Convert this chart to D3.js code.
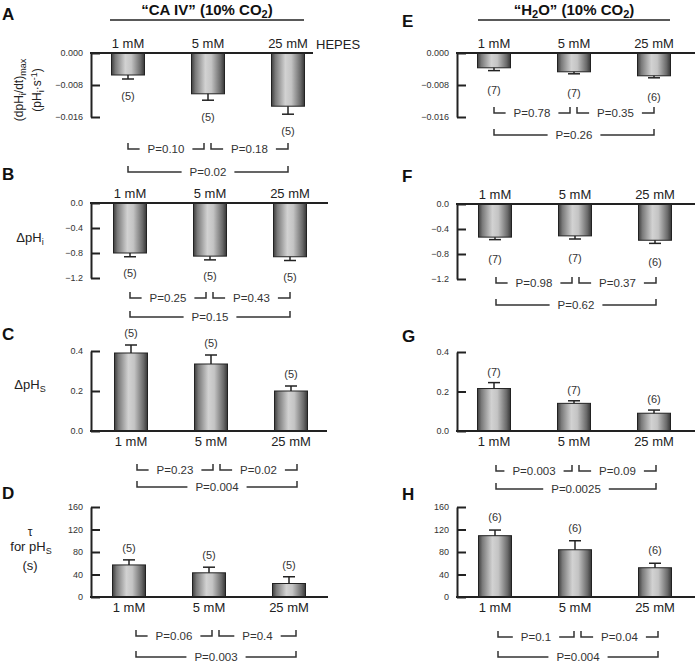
<!DOCTYPE html>
<html><head><meta charset="utf-8">
<script src="https://cdn.jsdelivr.net/npm/d3@7"></script>
<style>
body{margin:0;background:#fff}
svg{display:block}
text{font-family:Arial,"Liberation Sans",sans-serif;fill:#222}
</style>
</head><body>
<svg id="c" width="695" height="671"></svg>
<script>
// ---------- data ----------
const categories = ["1 mM", "5 mM", "25 mM"];

// "CA IV" (10% CO2)
const caivRate = [-0.0055, -0.0102, -0.0133];
const caivRateErr = [0.0010, 0.0016, 0.0020];
const caivDpHi = [-0.80, -0.85, -0.86];
const caivDpHiErr = [0.06, 0.06, 0.06];
const caivDpHs = [0.39, 0.335, 0.20];
const caivDpHsErr = [0.04, 0.045, 0.025];
const caivTau = [57, 43, 24];
const caivTauErr = [9, 10, 12];
const caivN = [5, 5, 5];

// "H2O" (10% CO2)
const h2oRate = [-0.0037, -0.0047, -0.0057];
const h2oRateErr = [0.0007, 0.0005, 0.0005];
const h2oDpHi = [-0.53, -0.51, -0.58];
const h2oDpHiErr = [0.04, 0.05, 0.05];
const h2oDpHs = [0.215, 0.14, 0.09];
const h2oDpHsErr = [0.03, 0.013, 0.016];
const h2oTau = [109, 84, 52];
const h2oTauErr = [10, 16, 8];
const h2oN = [7, 7, 6];
const h2oTauN = [6, 6, 6];

// P values: [1 vs 5, 5 vs 25, 1 vs 25]
const pA = ["P=0.10", "P=0.18", "P=0.02"];
const pB = ["P=0.25", "P=0.43", "P=0.15"];
const pC = ["P=0.23", "P=0.02", "P=0.004"];
const pD = ["P=0.06", "P=0.4", "P=0.003"];
const pE = ["P=0.78", "P=0.35", "P=0.26"];
const pF = ["P=0.98", "P=0.37", "P=0.62"];
const pG = ["P=0.003", "P=0.09", "P=0.0025"];
const pH = ["P=0.1", "P=0.04", "P=0.004"];

// tick labels
const rateTicks = [0, -0.008, -0.016];
const dpHiTicks = [0, -0.4, -0.8, -1.2];
const dpHsTicks = [0, 0.2, 0.4];
const tauTicks = [0, 40, 80, 120, 160];

// ---------- drawing ----------
const svg = d3.select("#c");
const defs = svg.append("defs");
const grad = defs.append("linearGradient").attr("id", "barGrad")
  .attr("x1", "0%").attr("x2", "100%").attr("y1", "0%").attr("y2", "0%");
[[0, "#3e3e3e"], [0.12, "#7a7a7a"], [0.42, "#d2d2d2"], [0.6, "#c4c4c4"], [0.88, "#6a6a6a"], [1, "#363636"]]
  .forEach(([o, c]) => grad.append("stop").attr("offset", o).attr("stop-color", c));

const INK = "#222";

function drawPanel(cfg) {
  const g = svg.append("g");
  const x = d3.scalePoint().domain(categories).range([cfg.x0 + 37 + cfg.dx, cfg.x0 + 197 + cfg.dx]);
  const y = d3.scaleLinear().domain(cfg.domain).range(cfg.range);
  const y0 = y(0);
  const bw = 33;

  // letter
  svg.append("text").attr("x", cfg.lx).attr("y", cfg.ly)
    .style("font-size", "17px").style("font-weight", "bold").style("fill", "#111")
    .text(cfg.letter);

  // bars
  const data = categories.map((c, i) => ({c, v: cfg.values[i], e: cfg.errs[i], n: cfg.n[i]}));
  g.selectAll("rect.bar").data(data).join("rect")
    .attr("x", d => x(d.c) - bw / 2)
    .attr("width", bw)
    .attr("y", d => Math.min(y(d.v), y0))
    .attr("height", d => Math.abs(y(d.v) - y0))
    .attr("fill", "url(#barGrad)")
    .attr("stroke", INK).attr("stroke-width", 1);

  // error bars (one-sided, away from zero)
  const sgn = cfg.neg ? -1 : 1;
  g.selectAll("line.err").data(data).join("line")
    .attr("x1", d => x(d.c)).attr("x2", d => x(d.c))
    .attr("y1", d => y(d.v)).attr("y2", d => y(d.v + sgn * d.e))
    .attr("stroke", INK).attr("stroke-width", 1.5);
  g.selectAll("line.cap").data(data).join("line")
    .attr("x1", d => x(d.c) - 6).attr("x2", d => x(d.c) + 6)
    .attr("y1", d => y(d.v + sgn * d.e)).attr("y2", d => y(d.v + sgn * d.e))
    .attr("stroke", INK).attr("stroke-width", 1.5);

  // n labels
  g.selectAll("text.n").data(data).join("text")
    .attr("x", d => x(d.c))
    .attr("y", d => y(d.v + sgn * d.e) + (cfg.neg ? cfg.nOff : -cfg.nOff) + 4)
    .attr("text-anchor", "middle").style("font-size", "11px").style("fill", "#333")
    .text(d => "(" + d.n + ")");

  // y axis
  const ax = d3.axisLeft(y).tickValues(cfg.ticks).tickSizeInner(-9).tickSizeOuter(0)
    .tickPadding(8).tickFormat(d3.format(cfg.fmt));
  const ag = g.append("g").attr("transform", `translate(${cfg.x0},0)`).call(ax);
  ag.select(".domain").attr("stroke", INK).attr("stroke-width", 2);
  ag.selectAll(".tick line").attr("stroke", INK).attr("stroke-width", 2);
  ag.selectAll(".tick text").style("font-size", "9px").style("fill", "#333")
    .style("font-family", "Arial,'Liberation Sans',sans-serif");

  // x axis line at zero
  g.append("line").attr("x1", cfg.x0 - 1).attr("x2", cfg.x0 + cfg.axisLen)
    .attr("y1", y0).attr("y2", y0).attr("stroke", INK).attr("stroke-width", 2);

  // category labels
  g.selectAll("text.cat").data(categories).join("text")
    .attr("x", d => x(d)).attr("y", cfg.neg ? y0 - 5 : y0 + 15)
    .attr("text-anchor", "middle").style("font-size", "13px")
    .text(d => d);

  // P brackets
  const c = categories.map(d => x(d) + cfg.bx);
  const brs = [
    {a: c[0], b: c[1] - 4, yy: cfg.row1, t: cfg.p[0]},
    {a: c[1] + 3, b: c[2], yy: cfg.row1, t: cfg.p[1]},
    {a: c[0], b: c[2], yy: cfg.row2, t: cfg.p[2]}
  ];
  brs.forEach(br => {
    const mid = (br.a + br.b) / 2;
    const tx = g.append("text").attr("x", mid).attr("y", br.yy + 4)
      .attr("text-anchor", "middle").style("font-size", "11.5px").style("fill", "#333")
      .text(br.t);
    const w = tx.node().getComputedTextLength();
    const gap = 8;
    const path = d3.path();
    path.moveTo(br.a, br.yy - 6); path.lineTo(br.a, br.yy); path.lineTo(mid - w / 2 - gap, br.yy);
    path.moveTo(mid + w / 2 + gap, br.yy); path.lineTo(br.b, br.yy); path.lineTo(br.b, br.yy - 6);
    g.append("path").attr("d", path.toString()).attr("fill", "none")
      .attr("stroke", "#333").attr("stroke-width", 1.5);
  });
}

const L = 91, R = 457;
const panels = [
  {letter: "A", lx: 2, ly: 20, x0: L, dx: 0, bx: 0, axisLen: 222, domain: [0, -0.016], range: [53, 117], ticks: rateTicks, fmt: ".3f",
   values: caivRate, errs: caivRateErr, n: caivN, p: pA, neg: true, nOff: 17, row1: 149, row2: 172},
  {letter: "B", lx: 2, ly: 180, x0: L, dx: 2, bx: 0, axisLen: 237, domain: [0, -1.2], range: [203, 278], ticks: dpHiTicks, fmt: ".1f",
   values: caivDpHi, errs: caivDpHiErr, n: caivN, p: pB, neg: true, nOff: 16, row1: 298, row2: 317},
  {letter: "C", lx: 2, ly: 340, x0: L, dx: 3, bx: 6, axisLen: 236, domain: [0, 0.4], range: [431, 351], ticks: dpHsTicks, fmt: ".1f",
   values: caivDpHs, errs: caivDpHsErr, n: caivN, p: pC, neg: false, nOff: 12, row1: 470, row2: 487},
  {letter: "D", lx: 2, ly: 499, x0: L, dx: 1, bx: 7, axisLen: 237, domain: [0, 160], range: [597, 507], ticks: tauTicks, fmt: "d",
   values: caivTau, errs: caivTauErr, n: caivN, p: pD, neg: false, nOff: 12, row1: 636, row2: 657},
  {letter: "E", lx: 402, ly: 27, x0: R, dx: 0, bx: 0, axisLen: 240, domain: [0, -0.016], range: [53, 117], ticks: rateTicks, fmt: ".3f",
   values: h2oRate, errs: h2oRateErr, n: h2oN, p: pE, neg: true, nOff: 19, row1: 113, row2: 135},
  {letter: "F", lx: 402, ly: 182, x0: R, dx: 1, bx: 1, axisLen: 240, domain: [0, -1.2], range: [204, 279], ticks: dpHiTicks, fmt: ".1f",
   values: h2oDpHi, errs: h2oDpHiErr, n: h2oN, p: pF, neg: true, nOff: 19, row1: 283, row2: 305},
  {letter: "G", lx: 402, ly: 342, x0: R, dx: 0, bx: 2, axisLen: 240, domain: [0, 0.4], range: [431, 352], ticks: dpHsTicks, fmt: ".1f",
   values: h2oDpHs, errs: h2oDpHsErr, n: h2oN, p: pG, neg: false, nOff: 11, row1: 471, row2: 489},
  {letter: "H", lx: 402, ly: 500, x0: R, dx: 1, bx: 3, axisLen: 240, domain: [0, 160], range: [597, 507], ticks: tauTicks, fmt: "d",
   values: h2oTau, errs: h2oTauErr, n: h2oTauN, p: pH, neg: false, nOff: 13, row1: 637, row2: 657}
];
panels.forEach(drawPanel);

// headings
function heading(cx, parts) {
  const t = svg.append("text").attr("x", cx).attr("y", 15).attr("text-anchor", "middle")
    .style("font-size", "15px").style("font-weight", "bold").style("fill", "#111");
  parts.forEach(p => {
    const s = t.append("tspan").text(p.t);
    if (p.sub) s.attr("dy", 3).style("font-size", "11px");
    if (p.back) s.attr("dy", -3);
  });
}
heading(207, [{t: "\u201CCA IV\u201D (10% CO"}, {t: "2", sub: true}, {t: ")", back: true}]);
heading(574, [{t: "\u201CH"}, {t: "2", sub: true}, {t: "O\u201D (10% CO", back: true}, {t: "2", sub: true}, {t: ")", back: true}]);
svg.append("line").attr("x1", 110).attr("x2", 304).attr("y1", 20).attr("y2", 20).attr("stroke", INK).attr("stroke-width", 1.5);
svg.append("line").attr("x1", 478).attr("x2", 670).attr("y1", 20).attr("y2", 20).attr("stroke", INK).attr("stroke-width", 1.5);

// HEPES
svg.append("text").attr("x", 316).attr("y", 49).style("font-size", "13px").text("HEPES");

// y-axis titles
function richText(sel, parts, size) {
  parts.forEach(p => {
    const s = sel.append("tspan").text(p.t);
    if (p.dy) s.attr("dy", p.dy);
    if (p.small) s.style("font-size", p.small);
  });
}
const ta1 = svg.append("text").attr("transform", "translate(23,90) rotate(-90)").attr("text-anchor", "middle").style("font-size", "12px");
richText(ta1, [{t: "(dpH"}, {t: "i", dy: 3, small: "9px"}, {t: "/dt)", dy: -3}, {t: "max", dy: 3, small: "9px"}]);
const ta2 = svg.append("text").attr("transform", "translate(41,90) rotate(-90)").attr("text-anchor", "middle").style("font-size", "12px");
richText(ta2, [{t: "(pH"}, {t: "i", dy: 3, small: "9px"}, {t: "\u00B7s", dy: -3}, {t: "-1", dy: -4, small: "9px"}, {t: ")", dy: 4}]);

const tb = svg.append("text").attr("x", 30).attr("y", 242).attr("text-anchor", "middle").style("font-size", "13px");
richText(tb, [{t: "\u0394pH"}, {t: "i", dy: 3, small: "9px"}]);
const tc = svg.append("text").attr("x", 30).attr("y", 389).attr("text-anchor", "middle").style("font-size", "13px");
richText(tc, [{t: "\u0394pH"}, {t: "S", dy: 3, small: "9px"}]);

svg.append("text").attr("x", 30).attr("y", 536).attr("text-anchor", "middle").style("font-size", "12px").text("\u03C4");
const td = svg.append("text").attr("x", 31).attr("y", 551).attr("text-anchor", "middle").style("font-size", "13px");
richText(td, [{t: "for pH"}, {t: "S", dy: 3, small: "9px"}]);
svg.append("text").attr("x", 30).attr("y", 570).attr("text-anchor", "middle").style("font-size", "13px").text("(s)");
</script>
</body></html>
